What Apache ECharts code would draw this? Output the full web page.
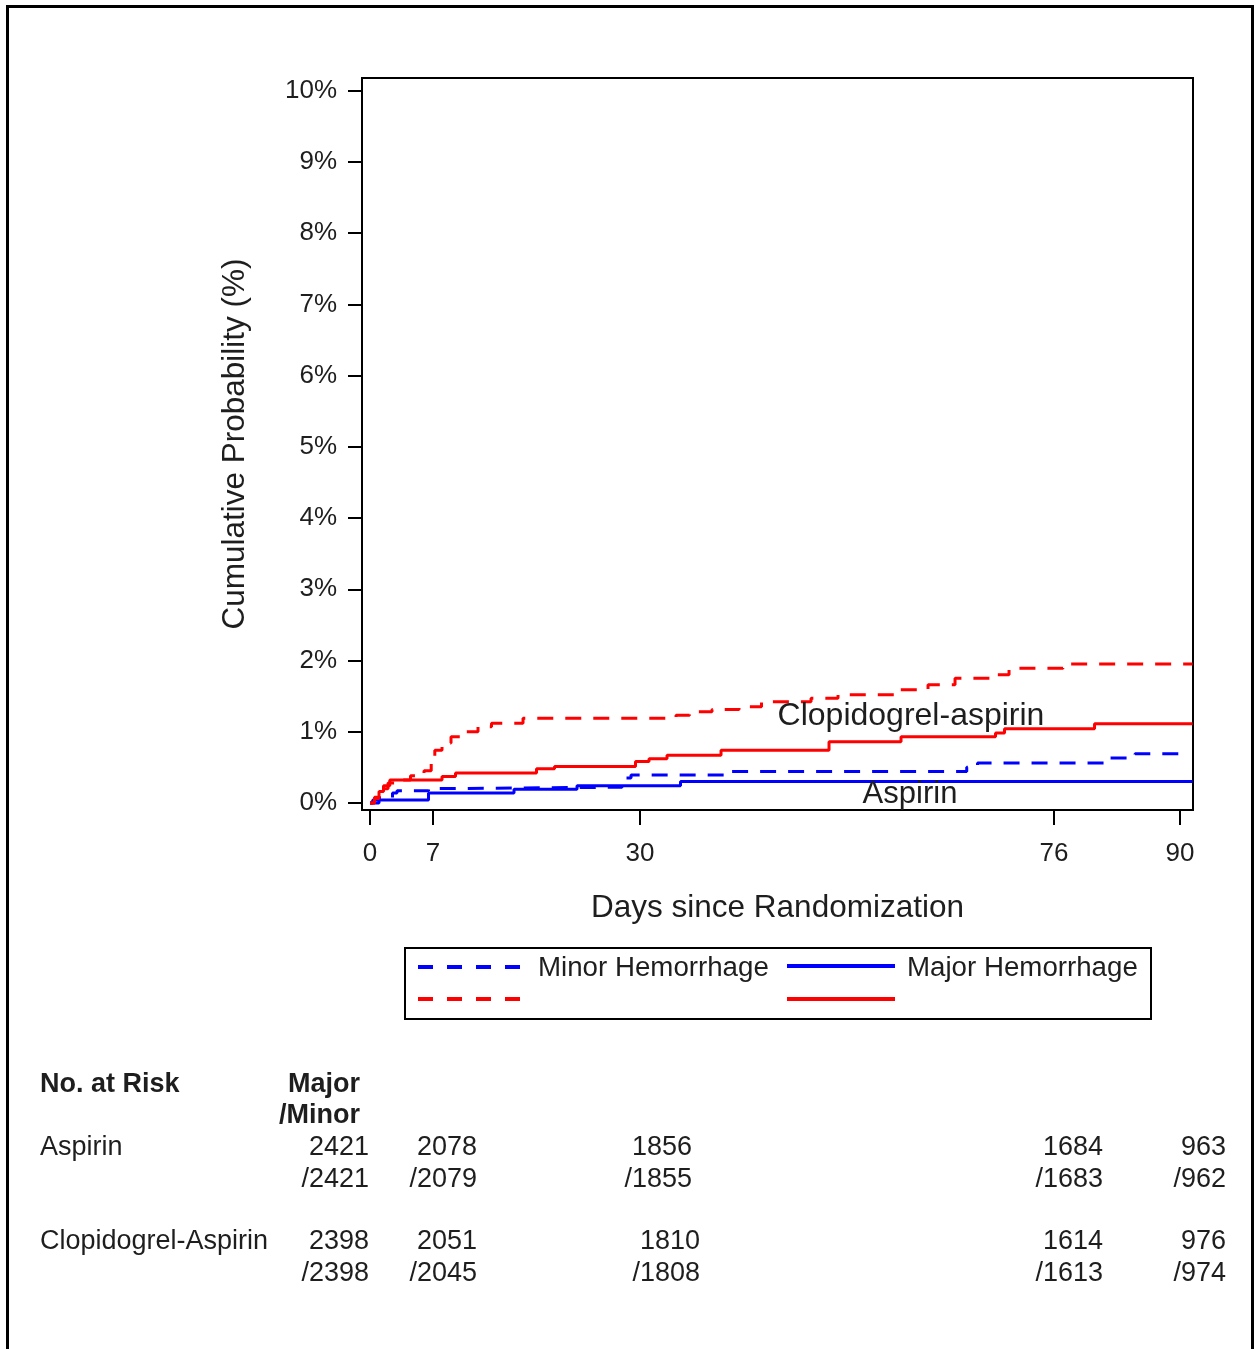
<!DOCTYPE html>
<html><head><meta charset="utf-8">
<script src="https://cdn.jsdelivr.net/npm/echarts@6/dist/echarts.min.js"></script>
<style>html,body{margin:0;padding:0;background:#fff}#c{width:1259px;height:1349px}</style>
</head><body><div id="c"></div>
<script>
// ---- data ----
const xTicks = [0, 7, 30, 76, 90];
const yTicks = [0, 1, 2, 3, 4, 5, 6, 7, 8, 9, 10];

const aspMajorDays = [0, 0.3, 6.5, 16, 23, 34.5];
const aspMajorPct  = [0, 0.04, 0.14, 0.19, 0.24, 0.30];
const aspMajorEnd  = 91.4;

const aspMinorDays = [0, 1, 2.5, 3, 6.5, 7, 28, 29, 40, 66.3, 67.5, 82, 85];
const aspMinorPct  = [0, 0.07, 0.14, 0.17, 0.20, 0.22, 0.35, 0.39, 0.44, 0.50, 0.56, 0.63, 0.69];
const aspMinorEnd  = 90.5;

const clopMajorDays = [0, 0.5, 1, 1.5, 2.2, 8, 9.5, 18.5, 20.5, 29.5, 31, 33, 39, 51, 59, 69.5, 70.5, 80.5];
const clopMajorPct  = [0, 0.08, 0.16, 0.24, 0.32, 0.37, 0.42, 0.48, 0.51, 0.58, 0.62, 0.67, 0.74, 0.86, 0.93, 0.98, 1.04, 1.11];
const clopMajorEnd  = 91.4;

const clopMinorDays = [0, 0.5, 1, 1.5, 2, 3, 4.5, 6, 6.8, 7.2, 8, 9, 10.5, 12, 13.5, 17, 34, 35.5, 38, 41, 43.5, 49, 52, 58.5, 62, 65, 69, 71, 77];
const clopMinorPct  = [0, 0.06, 0.12, 0.20, 0.28, 0.32, 0.38, 0.45, 0.60, 0.74, 0.84, 0.93, 1.00, 1.07, 1.12, 1.19, 1.23, 1.28, 1.31, 1.35, 1.42, 1.47, 1.52, 1.59, 1.66, 1.75, 1.80, 1.89, 1.95];
const clopMinorEnd  = 91.4;

const riskGroups    = ['Aspirin', 'Clopidogrel-Aspirin'];
const aspRiskMajor  = [2421, 2078, 1856, 1684, 963];
const aspRiskMinor  = [2421, 2079, 1855, 1683, 962];
const clopRiskMajor = [2398, 2051, 1810, 1614, 976];
const clopRiskMinor = [2398, 2045, 1808, 1613, 974];

// ---- layout ----
const FONT = '"Liberation Sans", Arial, sans-serif';
const TXT = '#1e1e1e';
const BLUE = '#0000ff', RED = '#ff0000';
const DASH = [16, 12];

function pts(days, pct, end) {
  const d = days.map((x, i) => [x, pct[i]]);
  d.push([end, pct[pct.length - 1]]);
  return d;
}

const chart = echarts.init(document.getElementById('c'), null, {renderer: 'canvas'});

function line(name, data, color, dashed) {
  return {
    name, type: 'line', step: 'end', data, showSymbol: false, animation: false,
    lineStyle: {color, width: 3, type: dashed ? DASH : 'solid'}, z: 3
  };
}

// risk table texts
const tableEls = [];
function t(text, x, y, align, bold) {
  tableEls.push({type: 'text', style: {text, x, y, textAlign: align, textVerticalAlign: 'middle',
    font: (bold ? 'bold ' : '') + '27px ' + FONT, fill: TXT}});
}
t('No. at Risk', 40, 1085, 'left', true);
t('Major', 360, 1085, 'right', true);
t('/Minor', 360, 1116, 'right', true);
t(riskGroups[0], 40, 1148, 'left', false);
t(riskGroups[1], 40, 1242, 'left', false);
const aspCols  = [369, 477, 692, 1103, 1226];
const clopCols = [369, 477, 700, 1103, 1226];
for (let i = 0; i < xTicks.length; i++) {
  t(String(aspRiskMajor[i]), aspCols[i], 1148, 'right');
  t('/' + aspRiskMinor[i], aspCols[i], 1180, 'right');
  t(String(clopRiskMajor[i]), clopCols[i], 1242, 'right');
  t('/' + clopRiskMinor[i], clopCols[i], 1274, 'right');
}

const legendEls = [
  {type: 'rect', shape: {x: 405, y: 948, width: 746, height: 71}, style: {fill: 'none', stroke: '#000', lineWidth: 2}},
  {type: 'line', shape: {x1: 418, y1: 967, x2: 523, y2: 967}, style: {stroke: BLUE, lineWidth: 4, lineDash: [15, 14]}},
  {type: 'line', shape: {x1: 418, y1: 999, x2: 523, y2: 999}, style: {stroke: RED, lineWidth: 4, lineDash: [15, 14]}},
  {type: 'line', shape: {x1: 787, y1: 966, x2: 895, y2: 966}, style: {stroke: BLUE, lineWidth: 4}},
  {type: 'line', shape: {x1: 787, y1: 999, x2: 895, y2: 999}, style: {stroke: RED, lineWidth: 4}},
  {type: 'text', style: {text: 'Minor Hemorrhage', x: 538, y: 968, textVerticalAlign: 'middle', font: '27.7px ' + FONT, fill: TXT}},
  {type: 'text', style: {text: 'Major Hemorrhage', x: 907, y: 968, textVerticalAlign: 'middle', font: '27.7px ' + FONT, fill: TXT}}
];

const option = {
  animation: false,
  backgroundColor: '#fff',
  grid: {left: 362, top: 78, width: 831, height: 732, show: true, borderColor: '#000', borderWidth: 2, backgroundColor: 'transparent'},
  xAxis: {
    type: 'value', min: -0.89, max: 91.44,
    name: 'Days since Randomization', nameLocation: 'middle', nameGap: 82,
    nameTextStyle: {fontFamily: FONT, fontSize: 31.5, color: TXT},
    axisLine: {show: true, onZero: false, lineStyle: {color: '#000', width: 2}},
    axisTick: {show: true, customValues: xTicks, length: 15, lineStyle: {color: '#000', width: 2}},
    axisLabel: {customValues: xTicks, margin: 31, fontFamily: FONT, fontSize: 26, color: TXT},
    splitLine: {show: false}
  },
  yAxis: {
    type: 'value', min: -0.1, max: 10.18,
    name: 'Cumulative Probability (%)', nameLocation: 'middle', nameGap: 111,
    nameTextStyle: {fontFamily: FONT, fontSize: 31.5, color: TXT},
    axisLine: {show: true, onZero: false, lineStyle: {color: '#000', width: 2}},
    axisTick: {show: true, customValues: yTicks, length: 14, lineStyle: {color: '#000', width: 2}},
    axisLabel: {customValues: yTicks, margin: 25, formatter: v => v + '%', fontFamily: FONT, fontSize: 26, color: TXT},
    splitLine: {show: false}
  },
  series: [
    line('Aspirin Major Hemorrhage', pts(aspMajorDays, aspMajorPct, aspMajorEnd), BLUE, false),
    line('Aspirin Minor Hemorrhage', pts(aspMinorDays, aspMinorPct, aspMinorEnd), BLUE, true),
    line('Clopidogrel-aspirin Major Hemorrhage', pts(clopMajorDays, clopMajorPct, clopMajorEnd), RED, false),
    line('Clopidogrel-aspirin Minor Hemorrhage', pts(clopMinorDays, clopMinorPct, clopMinorEnd), RED, true)
  ],
  graphic: [
    {type: 'rect', shape: {x: 7.5, y: 6.5, width: 1245, height: 1360}, style: {fill: 'none', stroke: '#000', lineWidth: 3}, z: 10},
    {type: 'text', z: 10, style: {text: 'Clopidogrel-aspirin', x: 911, y: 716, textAlign: 'center', textVerticalAlign: 'middle', font: '32px ' + FONT, fill: TXT}},
    {type: 'text', z: 10, style: {text: 'Aspirin', x: 910, y: 794, textAlign: 'center', textVerticalAlign: 'middle', font: '31px ' + FONT, fill: TXT}}
  ].concat(legendEls, tableEls)
};
chart.setOption(option);
</script>
</body></html>
